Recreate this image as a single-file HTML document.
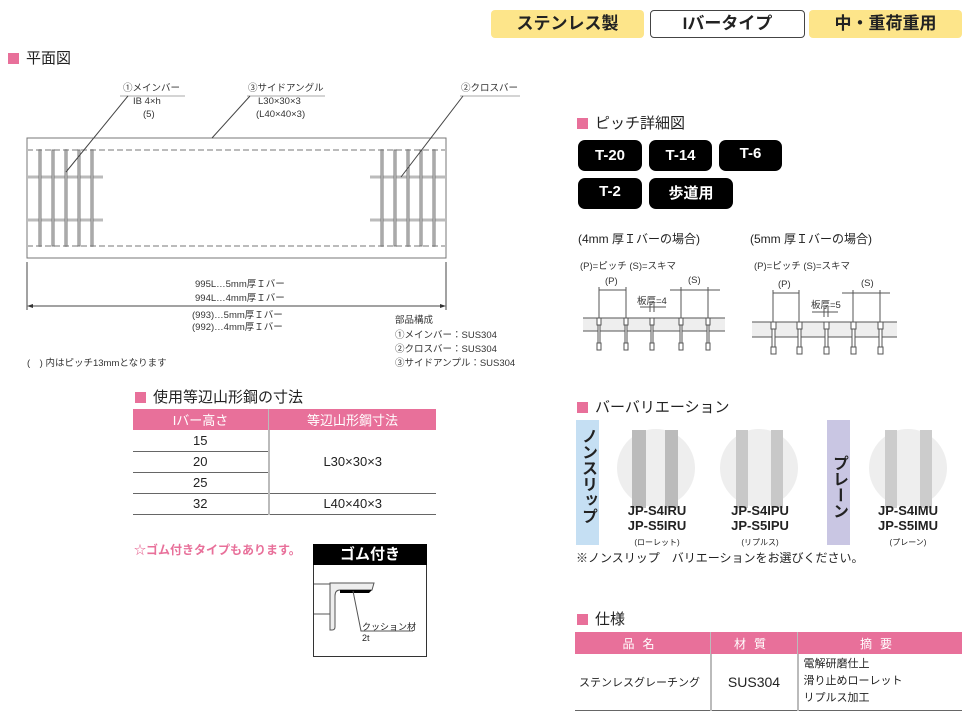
<!DOCTYPE html>
<html><head><meta charset="utf-8"><style>
body{margin:0;width:969px;height:714px;background:#fff;position:relative;overflow:hidden;font-family:"Liberation Sans","Noto Sans CJK JP",sans-serif;color:#222}
.a{position:absolute;white-space:nowrap}
.badge{position:absolute;top:10px;height:28px;width:153px;border-radius:4px;text-align:center;line-height:28px;font-size:17px;font-weight:bold}
.h{position:absolute;font-size:15px;white-space:nowrap}
.h:before{content:"";display:inline-block;width:11px;height:11px;background:#e8709a;margin-right:7px;vertical-align:-1px}
.btn{position:absolute;background:#000;color:#fff;border-radius:7px;text-align:center;font-weight:bold;font-size:15px;height:31px;line-height:31px}
.s{font-size:9.5px;color:#333}
table{border-collapse:collapse;position:absolute}
</style></head><body>
<div class="badge" style="left:491px;background:#fde58a">ステンレス製</div>
<div class="badge" style="left:650px;border:1px solid #444;background:#fff;height:26px;line-height:26px">Iバータイプ</div>
<div class="badge" style="left:809px;background:#fde58a">中・重荷重用</div>

<div class="h" style="left:8px;top:47px">平面図</div>

<svg class="a" style="left:0;top:0" width="969" height="714">
<g stroke="#999" fill="none" stroke-width="1">
<rect x="27" y="138" width="419" height="120" stroke="#777"/>
<line x1="27" y1="150" x2="446" y2="150" stroke-dasharray="6,3" stroke-width="2" stroke="#bbb"/>
<line x1="27" y1="246" x2="446" y2="246" stroke-dasharray="6,3" stroke-width="2" stroke="#bbb"/>
<g stroke="#888" stroke-width="1">
<line x1="27" y1="177" x2="103" y2="177" stroke-width="3" stroke="#bbb"/><line x1="27" y1="220" x2="103" y2="220" stroke-width="3" stroke="#bbb"/>
<line x1="370" y1="177" x2="446" y2="177" stroke-width="3" stroke="#bbb"/><line x1="370" y1="220" x2="446" y2="220" stroke-width="3" stroke="#bbb"/>
</g>
<g fill="#ddd" stroke="#777">
<rect x="39" y="150" width="2" height="96"/><rect x="52" y="150" width="2" height="96"/><rect x="65" y="150" width="2" height="96"/><rect x="78" y="150" width="2" height="96"/><rect x="91" y="150" width="2" height="96"/>
<rect x="381" y="150" width="2" height="96"/><rect x="394" y="150" width="2" height="96"/><rect x="407" y="150" width="2" height="96"/><rect x="420" y="150" width="2" height="96"/><rect x="433" y="150" width="2" height="96"/>
</g>
<g stroke="#aaa"><line x1="120" y1="96" x2="185" y2="96"/><line x1="247" y1="96" x2="325" y2="96"/><line x1="460" y1="96" x2="520" y2="96"/></g>
<g stroke="#444"><line x1="128" y1="96" x2="66" y2="172"/><line x1="250" y1="96" x2="212" y2="138"/><line x1="463" y1="96" x2="401" y2="177"/>
<line x1="27" y1="262" x2="27" y2="310"/><line x1="446" y1="262" x2="446" y2="310"/><line x1="30" y1="306" x2="443" y2="306"/></g>
<path d="M27 306l6-2v4zM446 306l-6-2v4z" fill="#333" stroke="none"/>
</g>
<g stroke="#555" fill="none" stroke-width="1">
<rect x="583" y="318" width="142" height="13" fill="#eee" stroke="none"/>
<path d="M583 318H725M583 331H725"/>
<path d="M599 287V318M626 287V318M681 287V318M708 287V318M599 290H626M670 290H720M640 307H666M650 302V312M654 302V312"/>
<rect x="752" y="322" width="145" height="15" fill="#eee" stroke="none"/><path d="M752 322H897M752 337H897"/>
<path d="M773 290V322M799 290V322M853 290V322M880 290V322M773 293H799M842 293H890M812 312H838M824 307V317M828 307V317"/>
</g>
<g fill="#fff" stroke="#555">
<g><rect x="597" y="318" width="4" height="7"/><rect x="598" y="325" width="2" height="18"/><rect x="597" y="343" width="4" height="7"/></g>
<g><rect x="624" y="318" width="4" height="7"/><rect x="625" y="325" width="2" height="18"/><rect x="624" y="343" width="4" height="7"/></g>
<g><rect x="650" y="318" width="4" height="7"/><rect x="651" y="325" width="2" height="18"/><rect x="650" y="343" width="4" height="7"/></g>
<g><rect x="679" y="318" width="4" height="7"/><rect x="680" y="325" width="2" height="18"/><rect x="679" y="343" width="4" height="7"/></g>
<g><rect x="706" y="318" width="4" height="7"/><rect x="707" y="325" width="2" height="18"/><rect x="706" y="343" width="4" height="7"/></g>
<g><rect x="771" y="322" width="5" height="7"/><rect x="772" y="329" width="3" height="18"/><rect x="771" y="347" width="5" height="7"/></g>
<g><rect x="797" y="322" width="5" height="7"/><rect x="798" y="329" width="3" height="18"/><rect x="797" y="347" width="5" height="7"/></g>
<g><rect x="824" y="322" width="5" height="7"/><rect x="825" y="329" width="3" height="18"/><rect x="824" y="347" width="5" height="7"/></g>
<g><rect x="851" y="322" width="5" height="7"/><rect x="852" y="329" width="3" height="18"/><rect x="851" y="347" width="5" height="7"/></g>
<g><rect x="878" y="322" width="5" height="7"/><rect x="879" y="329" width="3" height="18"/><rect x="878" y="347" width="5" height="7"/></g>
</g>
<circle cx="656" cy="468" r="39" fill="#eee"/><rect x="632" y="430" width="14" height="78" fill="#bbb"/><rect x="665" y="430" width="13" height="78" fill="#bbb"/>
<circle cx="759" cy="468" r="39" fill="#eee"/><rect x="736" y="430" width="12" height="78" fill="#c8c8c8"/><rect x="771" y="430" width="12" height="78" fill="#c8c8c8"/>
<circle cx="908" cy="468" r="39" fill="#eee"/><rect x="885" y="430" width="12" height="78" fill="#ccc"/><rect x="920" y="430" width="12" height="78" fill="#ccc"/>
<rect x="313.5" y="544.5" width="113" height="112" fill="#fff" stroke="#333"/>
<rect x="313" y="544" width="114" height="21" fill="#000"/>
<path d="M314 584H330M314 614H330M330 583H374L372 590H340Q335 590 335 596V627Q335 630 332 630H330Z" fill="#eee" stroke="#555"/>
<path d="M340 590H372L369 593H340Z" fill="#000"/>
<path d="M353 591L361 631H413" stroke="#555" fill="none"/>
</svg>

<div class="a s" style="left:123px;top:80px">①メインバー</div>
<div class="a s" style="left:133px;top:96px">IB 4×h</div>
<div class="a s" style="left:143px;top:109px">(5)</div>
<div class="a s" style="left:248px;top:80px">③サイドアングル</div>
<div class="a s" style="left:258px;top:96px">L30×30×3</div>
<div class="a s" style="left:256px;top:109px">(L40×40×3)</div>
<div class="a s" style="left:461px;top:80px">②クロスバー</div>
<div class="a s" style="left:195px;top:276px">995L…5mm厚Ｉバー</div>
<div class="a s" style="left:195px;top:290px">994L…4mm厚Ｉバー</div>
<div class="a s" style="left:192px;top:307px">(993)…5mm厚Ｉバー</div>
<div class="a s" style="left:192px;top:319px">(992)…4mm厚Ｉバー</div>
<div class="a s" style="left:395px;top:312px">部品構成</div>
<div class="a s" style="left:395px;top:327px">①メインバー：SUS304</div>
<div class="a s" style="left:395px;top:341px">②クロスバー：SUS304</div>
<div class="a s" style="left:395px;top:355px">③サイドアンプル：SUS304</div>
<div class="a s" style="left:27px;top:355px">(　) 内はピッチ13mmとなります</div>

<div class="h" style="left:135px;top:386px">使用等辺山形鋼の寸法</div>
<table style="left:133px;top:409px;width:303px;font-size:13px;text-align:center">
<tr style="background:#e8709a;color:#fff;height:21px"><td style="width:133px;border-right:1px solid #bbb">Iバー高さ</td><td>等辺山形鋼寸法</td></tr>
<tr style="height:21px;border-bottom:1px solid #666"><td style="border-right:2px solid #bbb">15</td><td rowspan="3" style="border-bottom:1px solid #666">L30×30×3</td></tr>
<tr style="height:21px;border-bottom:1px solid #666"><td style="border-right:2px solid #bbb">20</td></tr>
<tr style="height:21px;border-bottom:1px solid #666"><td style="border-right:2px solid #bbb">25</td></tr>
<tr style="height:21px;border-bottom:1px solid #666"><td style="border-right:2px solid #bbb">32</td><td>L40×40×3</td></tr>
</table>

<div class="a" style="left:134px;top:541px;font-size:12px;color:#e8709a;font-weight:bold">☆ゴム付きタイプもあります。</div>
<div class="a" style="left:313px;top:545px;width:114px;text-align:center;color:#fff;font-size:15px;font-weight:bold;line-height:20px">ゴム付き</div>
<div class="a" style="left:362px;top:620px;font-size:9px">クッション材</div>
<div class="a" style="left:362px;top:633px;font-size:9px">2t</div>

<div class="h" style="left:577px;top:112px">ピッチ詳細図</div>
<div class="btn" style="left:578px;top:140px;width:64px">T-20</div>
<div class="btn" style="left:649px;top:140px;width:63px">T-14</div>
<div class="btn" style="left:719px;top:140px;width:63px;line-height:28px">T-6</div>
<div class="btn" style="left:578px;top:178px;width:64px;line-height:28px">T-2</div>
<div class="btn" style="left:649px;top:178px;width:84px">歩道用</div>
<div class="a" style="left:578px;top:230px;font-size:12px">(4mm 厚Ｉバーの場合)</div>
<div class="a" style="left:750px;top:230px;font-size:12px">(5mm 厚Ｉバーの場合)</div>
<div class="a s" style="left:580px;top:258px">(P)=ピッチ (S)=スキマ</div>
<div class="a s" style="left:754px;top:258px">(P)=ピッチ (S)=スキマ</div>
<div class="a s" style="left:605px;top:276px">(P)</div><div class="a s" style="left:688px;top:275px">(S)</div>
<div class="a s" style="left:637px;top:293px">板厚=4</div>
<div class="a s" style="left:778px;top:279px">(P)</div><div class="a s" style="left:861px;top:278px">(S)</div>
<div class="a s" style="left:811px;top:297px">板厚=5</div>

<div class="h" style="left:577px;top:396px">バーバリエーション</div>
<div class="a" style="left:576px;top:420px;width:23px;height:125px;background:#c5dff3"></div>
<div class="a" style="left:577px;top:428px;width:21px;font-size:16px;font-weight:bold;writing-mode:vertical-rl;line-height:21px">ノンスリップ</div>
<div class="a" style="left:827px;top:420px;width:23px;height:125px;background:#c9c6e3"></div>
<div class="a" style="left:828px;top:455px;width:21px;font-size:16px;font-weight:bold;writing-mode:vertical-rl;line-height:21px">プレーン</div>
<div class="a" style="left:607px;top:503px;width:100px;text-align:center;font-weight:bold;font-size:13px;line-height:15px">JP-S4IRU<br>JP-S5IRU<br><span style="font-size:8px;font-weight:normal">(ローレット)</span></div>
<div class="a" style="left:710px;top:503px;width:100px;text-align:center;font-weight:bold;font-size:13px;line-height:15px">JP-S4IPU<br>JP-S5IPU<br><span style="font-size:8px;font-weight:normal">(リプルス)</span></div>
<div class="a" style="left:858px;top:503px;width:100px;text-align:center;font-weight:bold;font-size:13px;line-height:15px">JP-S4IMU<br>JP-S5IMU<br><span style="font-size:8px;font-weight:normal">(プレーン)</span></div>
<div class="a" style="left:576px;top:549px;font-size:12px">※ノンスリップ　バリエーションをお選びください。</div>

<div class="h" style="left:577px;top:608px">仕様</div>
<table style="left:575px;top:632px;width:387px;font-size:12px">
<tr style="background:#e8709a;color:#fff;height:22px;text-align:center;letter-spacing:8px"><td style="width:133px;border-right:1px solid #bbb">品名</td><td style="width:84px;border-right:1px solid #bbb">材質</td><td>摘要</td></tr>
<tr style="height:56px;border-bottom:1px solid #666"><td style="border-right:2px solid #bbb;font-size:11px;padding-left:4px">ステンレスグレーチング</td><td style="border-right:2px solid #bbb;text-align:center;font-size:14px">SUS304</td><td style="font-size:11px;line-height:17px;padding-left:5px">電解研磨仕上<br>滑り止めローレット<br>リプルス加工</td></tr>
</table>
</body></html>
